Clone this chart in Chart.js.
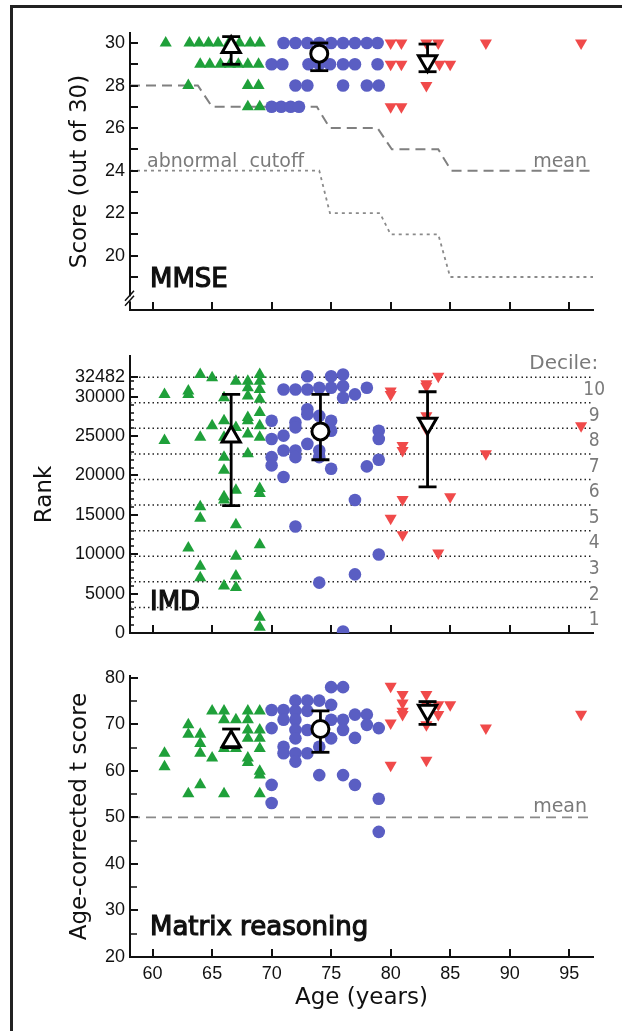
<!DOCTYPE html>
<html>
<head>
<meta charset="utf-8">
<script src="https://cdn.jsdelivr.net/npm/chart.js@4.4.1/dist/chart.umd.min.js"></script>
<style>
  html, body { margin: 0; padding: 0; background: #fff; overflow: hidden; }
  #page { position: relative; width: 622px; height: 1031px; overflow: hidden; }
  #frame { position: absolute; left: 10px; top: 5px; width: 700px; height: 1100px;
           border-left: 3px solid #222; border-top: 3px solid #222; }
  .panel { position: absolute; left: 0; width: 622px; }
</style>
</head>
<body>
<div id="page">
  <div id="frame"></div>
  <div class="panel" style="top:0;height:340px"><canvas id="mmse"></canvas></div>
  <div class="panel" style="top:340px;height:320px"><canvas id="imd"></canvas></div>
  <div class="panel" style="top:660px;height:371px"><canvas id="matrix"></canvas></div>
</div>
<script>
// ---- shared age axis ----
const X_MIN = 58.1;
const X_MAX = 97;
const X_TICKS = [60, 65, 70, 75, 80, 85, 90, 95];

// ---- MMSE ----
const MMSE_TICKS = [20, 22, 24, 26, 28, 30];
const MMSE_MINOR = [19, 20, 21, 22, 23, 24, 25, 26, 27, 28, 29, 30];
const MMSE_YOUNG = [
  [61.1, 30], [63.1, 30], [63.9, 30], [64.7, 30], [65.5, 30], [66.4, 30], [67.3, 30], [68.2, 30], [69.0, 30],
  [64.0, 29], [64.8, 29], [65.7, 29], [66.5, 29], [67.2, 29], [68.0, 29], [68.9, 29],
  [63.0, 28], [68.0, 28], [68.9, 28],
  [68.0, 27], [69.0, 27]
];
const MMSE_MID = [
  [71.0, 30], [72.0, 30], [73.0, 30], [74.0, 30], [75.0, 30], [76.0, 30], [77.0, 30], [78.0, 30], [78.9, 30],
  [70.0, 29], [70.9, 29], [73.1, 29], [74.0, 29], [74.9, 29], [76.0, 29], [77.0, 29], [78.9, 29],
  [72.0, 28], [73.0, 28], [76.0, 28], [78.0, 28], [79.0, 28],
  [70.0, 27], [70.8, 27], [71.6, 27], [72.3, 27]
];
const MMSE_OLD = [
  [80.0, 30], [80.9, 30], [83.0, 30], [84.0, 30], [88.0, 30], [96.0, 30],
  [80.0, 29], [80.9, 29], [84.1, 29], [85.0, 29],
  [83.0, 28],
  [80.0, 27], [80.9, 27]
];
// age, mean, lower, upper
const MMSE_MEANS = [[66.6, 29.8, 29.0, 30.3], [74.0, 29.5, 28.7, 30.0], [83.1, 29.15, 28.65, 29.95]];
const MMSE_NORM_AGE = [58.1, 63.8, 65.0, 73.8, 74.9, 78.9, 80.1, 84.0, 85.1, 97];
const MMSE_NORM = [28, 28, 27, 27, 26, 26, 25, 25, 24, 24];
const MMSE_CUTOFF_AGE = [58.1, 74.0, 74.9, 79.1, 80.0, 84.0, 85.0, 97];
const MMSE_CUTOFF = [24, 24, 22, 22, 21, 21, 19, 19];

// ---- IMD ----
const IMD_TICKS = [0, 5000, 10000, 15000, 20000, 25000, 30000, 32482];
const IMD_MINOR = [1000, 2000, 3000, 4000, 6000, 7000, 8000, 9000, 11000, 12000, 13000, 14000,
  16000, 17000, 18000, 19000, 21000, 22000, 23000, 24000, 26000, 27000, 28000, 29000, 31000, 32000];
const DECILE_EDGES = [3248, 6496, 9745, 12993, 16241, 19489, 22737, 25986, 29234, 32482];
const DECILE_LABELS = ['1', '2', '3', '4', '5', '6', '7', '8', '9', '10'];
const IMD_YOUNG = [
  [61, 30301], [61, 24429], [63, 30720], [63, 30301], [63, 10799],
  [64, 32817], [64, 24848], [64, 16041], [64, 14573], [64, 8491], [64, 7024],
  [65, 32398], [65, 26316],
  [66, 29881], [66, 26946], [66, 24848], [66, 22332], [66, 20655], [66, 17299], [66, 16880], [66, 5976],
  [67, 31978], [67, 26107], [67, 18138], [67, 13734], [67, 9750], [67, 7234], [67, 5766],
  [68, 31978], [68, 31139], [68, 30091], [68, 27365], [68, 26946], [68, 25268], [68, 22751],
  [69, 32817], [69, 31978], [69, 30930], [69, 29672], [69, 27994], [69, 26316], [69, 24848],
  [69, 18348], [69, 17718], [69, 11218], [69, 1991], [69, 733]
];
const IMD_MID = [
  [70, 26946], [70, 24639], [70, 22332], [70, 21283],
  [71, 30930], [71, 25058], [71, 23171], [71, 19816],
  [72, 30930], [72, 26736], [72, 26107], [72, 23171], [72, 22332], [72, 13525],
  [73, 32607], [73, 30930], [73, 28413], [73, 27784], [73, 24010],
  [74, 31139], [74, 27575], [74, 23171], [74, 22332], [74, 6395],
  [75, 32607], [75, 31139], [75, 26946], [75, 25687], [75, 20864],
  [76, 32817], [76, 31349], [76, 29881], [76, 200],
  [77, 30301], [77, 16880], [77, 7443],
  [78, 31139], [78, 21157],
  [79, 25687], [79, 24639], [79, 21997], [79, 9959]
];
const IMD_OLD = [
  [80, 30720], [80, 30301], [80, 14573],
  [81, 23800], [81, 23171], [81, 16964], [81, 12476],
  [83, 31643], [83, 31349], [83, 27575], [83, 25897],
  [84, 32607], [84, 10169], [85, 17299], [88, 22751], [96, 26316]
];
const IMD_MEANS = [[66.6, 24930, 16167, 30301], [74.1, 25603, 21997, 30301], [83.1, 26610, 18557, 30636]];

// ---- Matrix reasoning ----
const MATRIX_TICKS = [20, 30, 40, 50, 60, 70, 80];
const MATRIX_MINOR = [25, 35, 45, 55, 65, 75];
const MATRIX_NORM = 50;
const MATRIX_YOUNG = [
  [61, 63.8], [61, 60.9], [63, 69.9], [63, 67.9], [63, 55.1],
  [64, 67.9], [64, 65.9], [64, 63.8], [64, 57.0], [65, 72.9], [65, 62.8],
  [66, 72.9], [66, 71.0], [66, 64.8], [66, 55.1], [67, 71.0], [67, 64.8],
  [68, 72.9], [68, 71.0], [68, 68.8], [68, 67.0], [68, 62.8], [68, 61.8],
  [69, 72.9], [69, 68.8], [69, 67.0], [69, 64.8], [69, 59.9], [69, 59.1], [69, 55.1]
];
const MATRIX_MID = [
  [70, 73.1], [70, 69.2], [70, 57.0], [70, 53.1],
  [71, 73.1], [71, 71.0], [71, 65.2], [71, 63.8],
  [72, 75.1], [72, 72.9], [72, 71.0], [72, 68.8], [72, 67.0], [72, 63.8], [72, 62.0],
  [73, 75.1], [73, 72.9], [73, 68.8], [73, 63.8],
  [74, 75.1], [74, 65.2], [74, 59.1],
  [75, 78.0], [75, 74.2], [75, 71.0], [75, 67.0],
  [76, 78.0], [76, 71.0], [76, 68.8], [76, 59.1],
  [77, 72.1], [77, 67.1], [77, 57.0], [78, 72.1], [78, 69.9],
  [79, 69.2], [79, 54.0], [79, 46.9]
];
const MATRIX_OLD = [
  [80, 78.2], [80, 70.3], [80, 61.2],
  [81, 76.4], [81, 74.6], [81, 72.8], [81, 72.1],
  [83, 76.4], [83, 74.2], [83, 69.9], [83, 62.3],
  [84, 74.2], [84, 72.1], [85, 74.2], [88, 69.2], [96, 72.2]
];
const MATRIX_MEANS = [[66.6, 66.3, 65.0, 69.0], [74.1, 69.0, 64.0, 72.9], [83.1, 73.0, 70.0, 74.9]];

// ---- styles ----
const GREEN = '#1fa03a';
const BLUE = '#5a5ec3';
const RED = '#f04a4a';
const INK = '#111';
const GREY = '#7a7a7a';
const TICK_FONT = { family: '"Liberation Sans", Arial, sans-serif', size: 18 };
const TITLE_FONT = { family: '"DejaVu Sans", sans-serif', size: 23 };
const NOTE_FONT = '19px "DejaVu Sans", sans-serif';
const BIG_FONT = '26px "DejaVu Sans", sans-serif';
const MARKERS = [
  { color: GREEN, style: 'triangle', rot: 0, r: 7, meanR: 10.5 },
  { color: BLUE, style: 'circle', rot: 0, r: 6.3, meanR: 8.5 },
  { color: RED, style: 'triangle', rot: 180, r: 7, meanR: 10.5 }
];

const pts = arr => arr.map(([x, y]) => ({ x, y }));
const zip = (xs, ys) => xs.map((x, i) => ({ x, y: ys[i] }));
const hline = v => [{ x: X_MIN, y: v }, { x: X_MAX, y: v }];

// inward ticks, axis break and text notes
const decor = {
  id: 'decor',
  afterDraw(chart, args, o) {
    const { ctx, chartArea: a, scales: { x, y } } = chart;
    ctx.save();
    ctx.strokeStyle = INK;
    ctx.lineWidth = 2;
    ctx.beginPath();
    X_TICKS.forEach(v => {
      const px = Math.round(x.getPixelForValue(v));
      ctx.moveTo(px, a.bottom); ctx.lineTo(px, a.bottom - 8);
    });
    o.major.forEach(v => {
      const py = Math.round(y.getPixelForValue(v));
      ctx.moveTo(a.left, py); ctx.lineTo(a.left + 8, py);
    });
    ctx.stroke();
    ctx.lineWidth = 1.5;
    ctx.beginPath();
    o.minor.forEach(v => {
      const py = Math.round(y.getPixelForValue(v));
      ctx.moveTo(a.left, py); ctx.lineTo(a.left + o.minorLen, py);
    });
    ctx.stroke();

    if (o.breakAt !== undefined) {
      const py = y.getPixelForValue(o.breakAt);
      ctx.fillStyle = '#fff';
      ctx.fillRect(a.left - 3, py - 2, 6, 5);
      ctx.lineWidth = 1.5;
      ctx.beginPath();
      [-2.5, 2.5].forEach(d => {
        ctx.moveTo(a.left - 5, py + d + 5); ctx.lineTo(a.left + 4, py + d - 5);
      });
      ctx.stroke();
    }

    o.notes.forEach(n => {
      ctx.font = n.font;
      ctx.fillStyle = n.color;
      ctx.textAlign = n.align || 'left';
      ctx.textBaseline = n.baseline || 'alphabetic';
      const px = x.getPixelForValue(n.x);
      const py = y.getPixelForValue(n.y);
      ctx.fillText(n.text, px, py);
      if (n.bold) {
        ctx.strokeStyle = n.color; ctx.lineWidth = 1.2;
        ctx.strokeText(n.text, px, py);
      }
    });
    ctx.restore();
  }
};

function makePanel(id, p) {
  const datasets = [];
  p.means.forEach((m, i) => datasets.push({
    data: [{ x: m[0], y: m[1] }],
    pointStyle: MARKERS[i].style, pointRotation: MARKERS[i].rot, pointRadius: MARKERS[i].meanR,
    pointBackgroundColor: '#fff', pointBorderColor: '#000', pointBorderWidth: 3
  }));
  p.means.forEach(m => datasets.push({
    data: [{ x: m[0], y: m[2] }, { x: m[0], y: m[3] }],
    showLine: true, borderColor: '#000', borderWidth: 2.8,
    pointStyle: 'line', pointRadius: 9, pointBorderColor: '#000', pointBorderWidth: 2.8
  }));
  [1, 2, 0].forEach(i => datasets.push({
    data: pts(p.groups[i]),
    pointStyle: MARKERS[i].style, pointRotation: MARKERS[i].rot, pointRadius: MARKERS[i].r,
    pointBackgroundColor: MARKERS[i].color, pointBorderWidth: 0
  }));
  p.lines.forEach(l => datasets.push(Object.assign({ showLine: true, pointRadius: 0, fill: false }, l)));

  const lastPanel = !!p.xTitle;
  new Chart(document.getElementById(id), {
    type: 'scatter',
    data: { datasets },
    options: {
      responsive: true,
      maintainAspectRatio: false,
      animation: false,
      events: [],
      devicePixelRatio: 1,
      layout: { padding: p.pad },
      plugins: {
        legend: { display: false },
        tooltip: { enabled: false },
        decor: { major: p.major, minor: p.minor, minorLen: p.minorLen || 7, breakAt: p.breakAt, notes: p.notes }
      },
      scales: {
        x: {
          type: 'linear', min: X_MIN, max: X_MAX,
          afterBuildTicks: s => { s.ticks = X_TICKS.map(v => ({ value: v })); },
          afterFit: s => { s.height = p.xHeight; },
          grid: { display: false, drawTicks: false },
          border: { display: true, color: INK, width: 2 },
          ticks: { display: lastPanel, font: TICK_FONT, color: INK, padding: 6, maxRotation: 0, autoSkip: false },
          title: { display: lastPanel, text: p.xTitle || '', font: TITLE_FONT, color: INK, padding: { top: 0, bottom: 19 } }
        },
        y: {
          type: 'linear', min: p.yMin, max: p.yMax,
          afterBuildTicks: s => { s.ticks = p.yTicks.map(v => ({ value: v })); },
          afterFit: s => { s.width = 130 - p.pad.left; },
          grid: { display: false, drawTicks: false },
          border: { display: true, color: INK, width: 2 },
          ticks: { font: TICK_FONT, color: INK, padding: 5, autoSkip: false, callback: v => String(v) },
          title: { display: true, text: p.yTitle, font: TITLE_FONT, color: INK, padding: 0 }
        }
      }
    },
    plugins: [decor]
  });
}

makePanel('mmse', {
  pad: { top: 33, left: 66, right: 29, bottom: 30 }, xHeight: 0,
  yMin: 17.45, yMax: 30.47, yTicks: MMSE_TICKS, major: MMSE_MINOR, minor: [], breakAt: 18.0,
  yTitle: 'Score (out of 30)',
  groups: [MMSE_YOUNG, MMSE_MID, MMSE_OLD], means: MMSE_MEANS,
  lines: [
    { data: zip(MMSE_NORM_AGE, MMSE_NORM), borderColor: '#808080', borderWidth: 2, borderDash: [10, 6] },
    { data: zip(MMSE_CUTOFF_AGE, MMSE_CUTOFF), borderColor: '#8a8a8a', borderWidth: 1.8, borderDash: [3, 4] }
  ],
  notes: [
    { text: 'MMSE', x: 59.78, y: 18.55, font: BIG_FONT, color: INK, bold: true },
    { text: 'abnormal  cutoff', x: 59.53, y: 24.15, font: NOTE_FONT, color: GREY },
    { text: 'mean', x: 96.5, y: 24.15, font: NOTE_FONT, color: GREY, align: 'right' }
  ]
});

makePanel('imd', {
  pad: { top: 12, left: 31, right: 29, bottom: 27 }, xHeight: 0,
  yMin: 0, yMax: 35200, yTicks: IMD_TICKS, major: IMD_TICKS, minor: IMD_MINOR, minorLen: 4,
  yTitle: 'Rank',
  groups: [IMD_YOUNG, IMD_MID, IMD_OLD], means: IMD_MEANS,
  lines: DECILE_EDGES.map(v => ({ data: hline(v), borderColor: '#222', borderWidth: 1.5, borderDash: [1.5, 3] })),
  notes: [
    { text: 'IMD', x: 59.78, y: 2900, font: BIG_FONT, color: INK, bold: true },
    { text: 'Decile:', x: 97.43, y: 33550, font: '20px "DejaVu Sans", sans-serif', color: GREY, align: 'right' }
  ].concat(DECILE_LABELS.map((t, i) => ({
    text: t, x: 97.1, y: ((i === 0 ? 0 : DECILE_EDGES[i - 1]) + DECILE_EDGES[i]) / 2,
    font: '19px "DejaVu Sans Condensed", "DejaVu Sans", sans-serif', color: GREY, align: 'center', baseline: 'middle'
  })))
});

makePanel('matrix', {
  pad: { top: 16, left: 66, right: 29, bottom: 0 }, xHeight: 74,
  yMin: 20, yMax: 80.4, yTicks: MATRIX_TICKS, major: MATRIX_TICKS, minor: MATRIX_MINOR,
  yTitle: 'Age-corrected t score', xTitle: 'Age (years)',
  groups: [MATRIX_YOUNG, MATRIX_MID, MATRIX_OLD], means: MATRIX_MEANS,
  lines: [{ data: hline(MATRIX_NORM), borderColor: '#8a8a8a', borderWidth: 1.8, borderDash: [10, 6] }],
  notes: [
    { text: 'Matrix reasoning', x: 59.78, y: 24.8, font: BIG_FONT, color: INK, bold: true },
    { text: 'mean', x: 96.5, y: 51.25, font: NOTE_FONT, color: GREY, align: 'right' }
  ]
});
</script>
</body>
</html>
